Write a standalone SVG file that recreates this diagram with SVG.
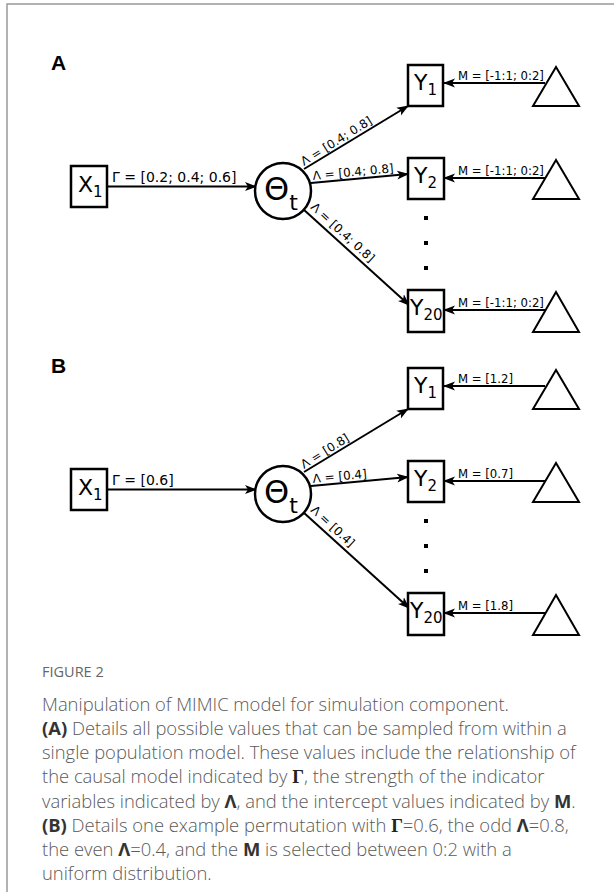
<svg xmlns="http://www.w3.org/2000/svg" width="614" height="892" viewBox="0 0 614 892">
<style>
.box{fill:#fff;stroke:#000;stroke-width:2.5}
.tri{fill:#fff;stroke:#000;stroke-width:2}
.edge{fill:none;stroke:#000;stroke-width:2}
.nl{font-family:"DejaVu Sans",sans-serif;font-size:22px;fill:#000}
.sub{font-size:15px}
.th{font-family:"DejaVu Sans",sans-serif;font-size:32px;fill:#000}
.lab{font-family:"DejaVu Sans",sans-serif;font-size:12px;fill:#000}
.ml{font-family:"DejaVu Sans",sans-serif;font-size:11.7px;fill:#000}
.gl{font-family:"DejaVu Sans",sans-serif;font-size:14px;fill:#000}
.pl{font-family:"Liberation Sans",Arial,sans-serif;font-size:21px;font-weight:bold;fill:#000}
.cap{font-family:"Open Sans",sans-serif;font-size:18.4px;font-weight:300;fill:#5a5a5a}
.fig{font-family:"Open Sans",sans-serif;font-size:14.5px;fill:#666}
.b{font-weight:bold;fill:#333}
.bs{font-family:"Liberation Serif",serif;font-weight:bold;fill:#222}
</style>
<defs>
<marker id="ah" markerUnits="userSpaceOnUse" viewBox="0 0 12 10" refX="11" refY="5" markerWidth="12" markerHeight="10" orient="auto">
<path d="M0,0.5 L12,5 L0,9.5 L3,5 z" fill="#000"/>
</marker>
</defs>
<rect x="7" y="4" width="620" height="900" fill="none" stroke="#999" stroke-width="1.5"/>

<!-- Panel A -->
<text class="pl" x="51" y="70">A</text>
<g id="connectorsA">
<line class="edge" x1="107" y1="186.5" x2="256" y2="186.5" marker-end="url(#ah)"/>
<line class="edge" x1="304" y1="169" x2="408" y2="106" marker-end="url(#ah)"/>
<line class="edge" x1="311" y1="183" x2="408" y2="174" marker-end="url(#ah)"/>
<line class="edge" x1="303" y1="209" x2="409" y2="305" marker-end="url(#ah)"/>
<line class="edge" x1="545" y1="83" x2="444" y2="83" marker-end="url(#ah)"/>
<line class="edge" x1="545" y1="178" x2="444" y2="178" marker-end="url(#ah)"/>
<line class="edge" x1="545" y1="310" x2="444" y2="310" marker-end="url(#ah)"/>
<text class="gl" x="112" y="182">Γ = [0.2; 0.4; 0.6]</text>
<text class="lab" transform="translate(304,166) rotate(-32)">Λ = [0.4; 0.8]</text>
<text class="lab" transform="translate(313,180) rotate(-5.5)">Λ = [0.4; 0.8]</text>
<text class="lab" transform="translate(310,208) rotate(42.5)">Λ = [0.4; 0.8]</text>
<text class="ml" x="458" y="80">M = [-1:1; 0:2]</text>
<text class="ml" x="458" y="175">M = [-1:1; 0:2]</text>
<text class="ml" x="458" y="307">M = [-1:1; 0:2]</text>
</g>
<g id="X1_A"><rect class="box" x="71" y="166" width="36" height="41"/><text class="nl" x="78" y="192">X<tspan class="sub" dy="5">1</tspan></text></g>
<g id="Theta_A"><circle class="box" cx="283" cy="191" r="28"/><text class="th" x="264" y="200">Θ<tspan style="font-size:22px" dy="10">t</tspan></text></g>
<g id="Y1_A"><rect class="box" x="408" y="65" width="35" height="41"/><text class="nl" x="414" y="90">Y<tspan class="sub" dy="5">1</tspan></text></g>
<g id="Y2_A"><rect class="box" x="408" y="158" width="36" height="41"/><text class="nl" x="414" y="183">Y<tspan class="sub" dy="5">2</tspan></text></g>
<g id="Y20_A"><rect class="box" x="408" y="290" width="36" height="42"/><text class="nl" x="410" y="315">Y<tspan class="sub" dy="5">20</tspan></text></g>
<g id="dots_A"><rect x="424" y="216" width="4" height="4"/><rect x="424" y="241" width="4" height="4"/><rect x="424" y="266" width="4" height="4"/></g>
<g id="T1_A"><polygon class="tri" points="556,67 533,106 579,106"/></g>
<g id="T2_A"><polygon class="tri" points="556,160 533,199 579,199"/></g>
<g id="T20_A"><polygon class="tri" points="556,292 533,332 579,332"/></g>

<!-- Panel B -->
<text class="pl" x="51" y="373">B</text>
<g id="connectorsB" transform="translate(0,303)">
<line class="edge" x1="107" y1="186.5" x2="256" y2="186.5" marker-end="url(#ah)"/>
<line class="edge" x1="304" y1="169" x2="408" y2="106" marker-end="url(#ah)"/>
<line class="edge" x1="311" y1="183" x2="408" y2="174" marker-end="url(#ah)"/>
<line class="edge" x1="303" y1="209" x2="409" y2="305" marker-end="url(#ah)"/>
<line class="edge" x1="545" y1="83" x2="444" y2="83" marker-end="url(#ah)"/>
<line class="edge" x1="545" y1="178" x2="444" y2="178" marker-end="url(#ah)"/>
<line class="edge" x1="545" y1="310" x2="444" y2="310" marker-end="url(#ah)"/>
<text class="gl" x="112" y="182">Γ = [0.6]</text>
<text class="lab" transform="translate(304,166) rotate(-32)">Λ = [0.8]</text>
<text class="lab" transform="translate(313,180) rotate(-5.5)">Λ = [0.4]</text>
<text class="lab" transform="translate(310,208) rotate(42.5)">Λ = [0.4]</text>
<text class="ml" x="458" y="80">M = [1.2]</text>
<text class="ml" x="458" y="175">M = [0.7]</text>
<text class="ml" x="458" y="307">M = [1.8]</text>
</g>
<g id="X1_B" transform="translate(0,303)"><rect class="box" x="71" y="166" width="36" height="41"/><text class="nl" x="78" y="192">X<tspan class="sub" dy="5">1</tspan></text></g>
<g id="Theta_B" transform="translate(0,303)"><circle class="box" cx="283" cy="191" r="28"/><text class="th" x="264" y="200">Θ<tspan style="font-size:22px" dy="10">t</tspan></text></g>
<g id="Y1_B" transform="translate(0,303)"><rect class="box" x="408" y="65" width="35" height="41"/><text class="nl" x="414" y="90">Y<tspan class="sub" dy="5">1</tspan></text></g>
<g id="Y2_B" transform="translate(0,303)"><rect class="box" x="408" y="158" width="36" height="41"/><text class="nl" x="414" y="183">Y<tspan class="sub" dy="5">2</tspan></text></g>
<g id="Y20_B" transform="translate(0,303)"><rect class="box" x="408" y="290" width="36" height="42"/><text class="nl" x="410" y="315">Y<tspan class="sub" dy="5">20</tspan></text></g>
<g id="dots_B" transform="translate(0,303)"><rect x="424" y="216" width="4" height="4"/><rect x="424" y="241" width="4" height="4"/><rect x="424" y="266" width="4" height="4"/></g>
<g id="T1_B" transform="translate(0,303)"><polygon class="tri" points="556,67 533,106 579,106"/></g>
<g id="T2_B" transform="translate(0,303)"><polygon class="tri" points="556,160 533,199 579,199"/></g>
<g id="T20_B" transform="translate(0,303)"><polygon class="tri" points="556,292 533,332 579,332"/></g>

<!-- Caption -->
<text class="fig" x="42" y="677">FIGURE 2</text>
<text class="cap" x="42" y="711">Manipulation of MIMIC model for simulation component.</text>
<text class="cap" x="42" y="735"><tspan class="b">(A)</tspan> Details all possible values that can be sampled from within a</text>
<text class="cap" x="42" y="759">single population model. These values include the relationship of</text>
<text class="cap" x="42" y="783">the causal model indicated by <tspan class="bs">Γ</tspan>, the strength of the indicator</text>
<text class="cap" x="42" y="808">variables indicated by <tspan class="b">Λ</tspan>, and the intercept values indicated by <tspan class="b">M</tspan>.</text>
<text class="cap" x="42" y="832"><tspan class="b">(B)</tspan> Details one example permutation with <tspan class="bs">Γ</tspan>=0.6, the odd <tspan class="b">Λ</tspan>=0.8,</text>
<text class="cap" x="42" y="856">the even <tspan class="b">Λ</tspan>=0.4, and the <tspan class="b">M</tspan> is selected between 0:2 with a</text>
<text class="cap" x="42" y="880">uniform distribution.</text>
</svg>
